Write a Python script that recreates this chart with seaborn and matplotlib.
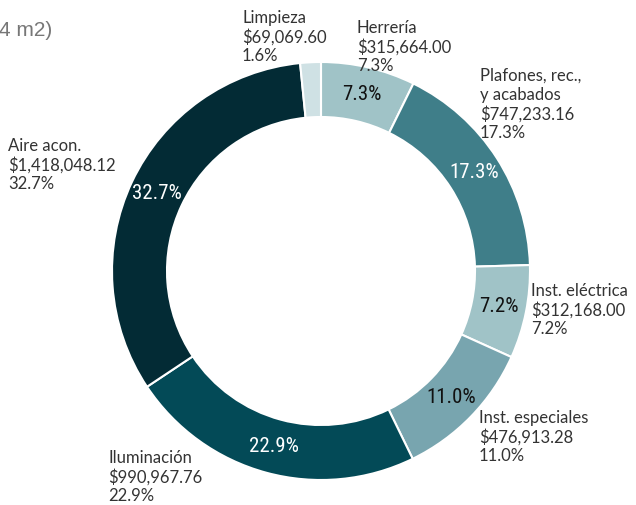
import matplotlib
matplotlib.use("Agg")
import matplotlib.pyplot as plt
import numpy as np
import seaborn as sns

# Cost breakdown by category (MXN), clockwise from the top
categories = ["Herrería", "Plafones, rec.,\ny acabados", "Inst. eléctrica",
              "Inst. especiales", "Iluminación", "Aire acon.", "Limpieza"]
amounts = [315664.00, 747233.16, 312168.00, 476913.28, 990967.76, 1418048.12, 69069.60]
colors = ["#a0c3c7", "#3f7e89", "#a0c3c7", "#78a5af", "#034a57", "#032b35", "#cfe1e4"]
inner_text_colors = ["#111111", "#ffffff", "#111111", "#111111", "#ffffff", "#ffffff", None]

# Top-left anchor (pixels) for each outer label
label_anchor = [(357, 20), (480, 68), (531, 283), (479, 410), (108, 450), (8, 138), (242, 10)]

sns.set_theme(style="white")
plt.rcParams["font.family"] = ["Lato", "DejaVu Sans"]

W, H = 636, 505
fig = plt.figure(figsize=(W / 100, H / 100), dpi=100)
ax = fig.add_axes([0, 0, 1, 1])

cx, cy = 321, H - 271
r_out, r_in = 209, 154
total = sum(amounts)
pcts = [a / total * 100 for a in amounts]

wedges, _ = ax.pie(amounts, colors=colors, startangle=90, counterclock=False,
                   center=(cx, cy), radius=r_out, frame=True,
                   wedgeprops=dict(width=r_out - r_in, edgecolor="white", linewidth=1.5))
ax.set_xlim(0, W)
ax.set_ylim(0, H)
ax.set_aspect("equal")
ax.axis("off")

r_mid = (r_out + r_in) / 2
for w, p, tc in zip(wedges, pcts, inner_text_colors):
    if tc is None:
        continue
    ang = np.deg2rad((w.theta1 + w.theta2) / 2)
    ax.text(cx + r_mid * np.cos(ang), cy + r_mid * np.sin(ang), f"{p:.1f}%",
            ha="center", va="center", color=tc, fontsize=15,
            family=["Roboto Condensed", "DejaVu Sans"])

for name, amt, p, (lx, ly) in zip(categories, amounts, pcts, label_anchor):
    ax.text(lx, H - ly, f"{name}\n${amt:,.2f}\n{p:.1f}%", ha="left", va="top",
            color="#333333", fontsize=12, linespacing=1.2)

ax.text(-1, H - 30, "4 m2)", ha="left", va="center", color="#777777", fontsize=15,
        family=["Liberation Sans", "DejaVu Sans"])

fig.savefig("out.png", dpi=100)
